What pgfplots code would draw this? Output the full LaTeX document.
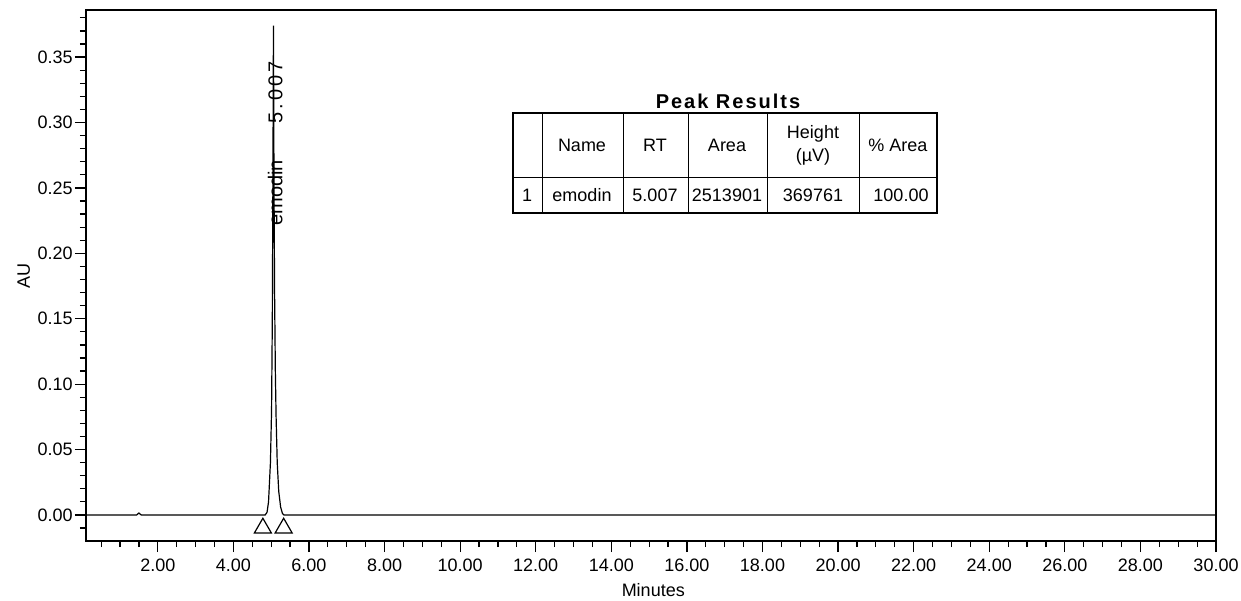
\documentclass[border=0pt]{standalone}
\usepackage{pgfplots}
\pgfplotsset{compat=1.18}
\usepackage{fontspec}
\setmainfont{Liberation Sans}

\begin{document}
\begin{tikzpicture}
% page = 1241 x 600 px at 0.5pt per px, axis box top-left at px (86,10)
\useasboundingbox (-43pt,5pt) rectangle (577.5pt,-295pt);
\begin{axis}[
    at={(0,0)}, anchor=north west,
    scale only axis,
    width=565pt, height=265.5pt,
    xmin=0.1, xmax=30,
    ymin=-0.0199, ymax=0.386,
    axis line style={line width=0.8pt},
    tick align=outside,
    xtick pos=bottom, ytick pos=left,
    xtick={2,4,...,30},
    minor xtick={0.5,1,...,29.5},
    ytick={0,0.05,0.1,0.15,0.2,0.25,0.3,0.35},
    minor ytick={-0.01,0.01,0.02,0.03,0.04,0.06,0.07,0.08,0.09,0.11,0.12,0.13,0.14,0.16,0.17,0.18,0.19,0.21,0.22,0.23,0.24,0.26,0.27,0.28,0.29,0.31,0.32,0.33,0.34,0.36,0.37,0.38},
    major tick length=5.5pt,
    minor tick length=3pt,
    every tick/.style={black, line width=0.6pt},
    /pgf/number format/assume math mode=true,
    xticklabel style={font=\fontsize{9}{10}\selectfont, /pgf/number format/.cd, fixed, fixed zerofill, precision=2},
    yticklabel style={font=\fontsize{9}{10}\selectfont, inner sep=1pt, /pgf/number format/.cd, fixed, fixed zerofill, precision=2},
    scaled y ticks=false,
    xlabel={Minutes},
    ylabel={AU},
    xlabel style={font=\fontsize{9}{10}\selectfont, at={(axis description cs:0.502,-0.092)}, anchor=center},
    ylabel style={font=\fontsize{9}{10}\selectfont, at={(axis description cs:-0.055,0.5)}, anchor=center, rotate=0},
]

% chromatogram trace
\addplot[black, line width=0.6pt] coordinates {
    (0.1,0) (1.44,0) (1.50,0.0015) (1.56,0) (4.84,0)
    (4.89,0.002) (4.93,0.01) (4.98,0.04) (5.01,0.08) (5.03,0.15)
    (5.045,0.25) (5.06,0.374) (5.075,0.25) (5.09,0.17) (5.11,0.11)
    (5.13,0.075) (5.16,0.04) (5.20,0.018) (5.25,0.006) (5.30,0.001)
    (5.34,0) (30,0)
};

% peak start / end markers
\addplot[only marks, mark=triangle, mark size=4.9pt, mark options={black, line width=0.6pt}] coordinates {
    (4.78,-0.01) (5.33,-0.01)
};

\node[rotate=90, font=\fontsize{10}{11}\selectfont, inner sep=0pt] at (axis cs:5.105,0.284)
    {emodin\hspace{18.5pt}{\addfontfeatures{LetterSpace=15}5.007}};
\end{axis}

% Peak Results table, drawn in image pixels
\begin{scope}[x=0.5pt, y=-0.5pt, shift={(-86,-10)}]
    \node[font=\bfseries\fontsize{10}{12}\selectfont\addfontfeatures{LetterSpace=10}] at (728,101) {Peak Results};
    \draw[line width=0.9pt] (513,113) rectangle (937,213);
    \draw[line width=0.5pt] (513,177) -- (937,177);
    \foreach \xx in {542,623,688,767,859}
        \draw[line width=0.5pt] (\xx,113) -- (\xx,213);
    \begin{scope}[every node/.style={font=\fontsize{9}{10}\selectfont}]
        \node at (582,145) {Name};
        \node at (655,145) {RT};
        \node at (727,145) {Area};
        \node at (813,134) {Height};
        \node at (813,157) {(µV)};
        \node at (898,145) {\% Area};
        \node at (527,195) {1};
        \node at (582,195) {emodin};
        \node at (655,195) {5.007};
        \node at (727,195) {2513901};
        \node at (813,195) {369761};
        \node at (901,195) {100.00};
    \end{scope}
\end{scope}
\end{tikzpicture}
\end{document}
